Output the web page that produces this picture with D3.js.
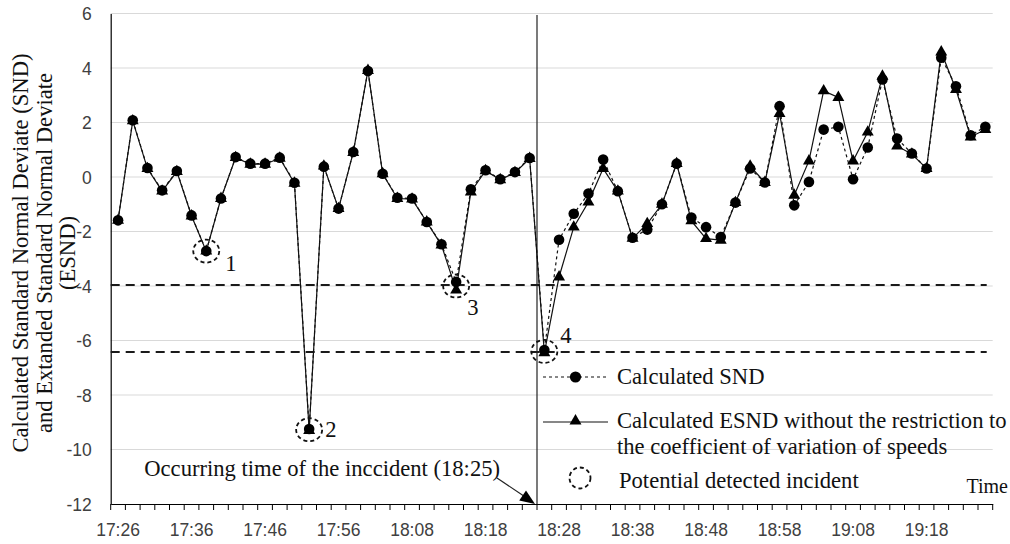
<!DOCTYPE html>
<html>
<head>
<meta charset="utf-8">
<script src="https://cdn.jsdelivr.net/npm/d3@7"></script>
<style>
  html, body { margin: 0; padding: 0; background: #fff; }
  svg { display: block; }
</style>
</head>
<body>
<svg id="chart" width="1010" height="544"></svg>
<script>
// Time of each 2-minute observation interval
const categories = [
  "17:26","17:28","17:30","17:32","17:34","17:36","17:38","17:40","17:42","17:44",
  "17:46","17:48","17:50","17:52","17:54","17:56","17:58","18:00","18:02","18:06",
  "18:08","18:10","18:12","18:14","18:16","18:18","18:20","18:22","18:24","18:26",
  "18:28","18:30","18:32","18:34","18:36","18:38","18:40","18:42","18:44","18:46",
  "18:48","18:50","18:52","18:54","18:56","18:58","19:00","19:02","19:04","19:06",
  "19:08","19:10","19:12","19:14","19:16","19:18","19:20","19:22","19:24","19:26"
];

// Calculated standard normal deviate
const snd = [
  -1.59, 2.08, 0.33, -0.49, 0.22, -1.41, -2.72, -0.79, 0.73, 0.49,
   0.49, 0.71, -0.21, -9.25, 0.38, -1.16, 0.92, 3.89, 0.12, -0.76,
  -0.79, -1.65, -2.47, -3.85, -0.45, 0.25, -0.08, 0.18, 0.70, -6.35,
  -2.30, -1.35, -0.61, 0.64, -0.52, -2.23, -1.93, -1.00, 0.49, -1.49,
  -1.84, -2.20, -0.94, 0.31, -0.20, 2.60, -1.04, -0.18, 1.74, 1.84,
  -0.08, 1.08, 3.58, 1.41, 0.86, 0.31, 4.38, 3.33, 1.53, 1.84
];

// Calculated ESND without the restriction to the coefficient of variation
const esnd = [
  -1.59, 2.06, 0.31, -0.52, 0.20, -1.43, -2.72, -0.79, 0.71, 0.47,
   0.47, 0.69, -0.23, -9.30, 0.40, -1.16, 0.90, 3.91, 0.12, -0.79,
  -0.81, -1.65, -2.50, -4.15, -0.55, 0.23, -0.10, 0.16, 0.68, -6.45,
  -3.67, -1.84, -0.92, 0.31, -0.52, -2.25, -1.71, -1.00, 0.49, -1.61,
  -2.26, -2.32, -0.94, 0.40, -0.20, 2.33, -0.67, 0.59, 3.16, 2.92,
   0.59, 1.65, 3.70, 1.14, 0.84, 0.31, 4.59, 3.21, 1.47, 1.74
];

// Detection thresholds
const thresholds = [-3.96, -6.42];

// Potential detected incidents (category index) and their numbers
const incidentIdx = [6, 13, 23, 29];
const incidentLabels = ["1", "2", "3", "4"];

// Incident onset lies between these two intervals
const incidentBetween = ["18:24", "18:26"];
const incidentText = "Occurring time of the inccident (18:25)";

const yTicks = [6, 4, 2, 0, -2, -4, -6, -8, -10, -12];
const xTickLabels = categories.filter((d, i) => i % 5 === 0);

const legendItems = [
  ["Calculated SND"],
  ["Calculated ESND without the restriction to", "the coefficient of variation of speeds"],
  ["Potential detected incident"]
];

// ---------- layout ----------
const serif = "'Liberation Serif', 'Times New Roman', serif";
const sans = "'Liberation Sans', Arial, sans-serif";
const serifSize = 22.6;
const plot = { left: 110.7, right: 992.7, top: 13.5, bottom: 504 };

const svg = d3.select("#chart");

const x = d3.scaleBand().domain(categories).range([plot.left, plot.right]).padding(0);
const y = d3.scaleLinear().domain([-12, 6]).range([plot.bottom, plot.top]);
const cx = d => x(d) + x.bandwidth() / 2;

// horizontal gridlines
svg.append("g")
  .selectAll("line")
  .data(yTicks.filter(v => v !== -12))
  .join("line")
  .attr("x1", plot.left).attr("x2", plot.right)
  .attr("y1", d => y(d)).attr("y2", d => y(d))
  .attr("stroke", "#d9d9d9").attr("stroke-width", 1);

// y axis (labels only, plus the axis line)
const yAxis = svg.append("g")
  .attr("transform", `translate(${plot.left},0)`)
  .call(d3.axisLeft(y).tickValues(yTicks).tickSize(0).tickPadding(19).tickFormat(d => String(d)));
yAxis.select(".domain").attr("stroke", "#000").attr("stroke-width", 1.2);
yAxis.selectAll("text")
  .attr("font-family", sans).attr("font-size", 17.5).attr("fill", "#404040")
  .attr("dy", "0.36em");

// x axis: tick marks at interval boundaries, labels every fifth interval
const xAxis = svg.append("g")
  .attr("transform", `translate(0,${plot.bottom})`)
  .call(d3.axisBottom(x).tickValues(xTickLabels).tickSize(0).tickPadding(0));
xAxis.select(".domain").attr("stroke", "#000").attr("stroke-width", 1.2);
xAxis.selectAll("text")
  .attr("font-family", sans).attr("font-size", 17.5).attr("fill", "#404040")
  .attr("y", 32).attr("dy", 0);

const boundaries = categories.map(c => x(c)).concat([plot.right]);
svg.append("g")
  .selectAll("line")
  .data(boundaries)
  .join("line")
  .attr("x1", d => d).attr("x2", d => d)
  .attr("y1", plot.bottom).attr("y2", plot.bottom + 6)
  .attr("stroke", "#000").attr("stroke-width", 1);

// threshold lines
svg.append("g")
  .selectAll("line")
  .data(thresholds)
  .join("line")
  .attr("x1", plot.left).attr("x2", plot.right - 6)
  .attr("y1", d => y(d)).attr("y2", d => y(d))
  .attr("stroke", "#1a1a1a").attr("stroke-width", 2)
  .attr("stroke-dasharray", "9,6");

// incident onset line
const xIncident = (cx(incidentBetween[0]) + cx(incidentBetween[1])) / 2;
svg.append("line")
  .attr("x1", xIncident).attr("x2", xIncident)
  .attr("y1", plot.top + 1.5).attr("y2", plot.bottom)
  .attr("stroke", "#222").attr("stroke-width", 1.2);

// series lines
const line = d3.line().x((d, i) => cx(categories[i])).y(d => y(d));

svg.append("path")
  .datum(esnd)
  .attr("d", line)
  .attr("fill", "none").attr("stroke", "#111").attr("stroke-width", 1.2);

svg.append("path")
  .datum(snd)
  .attr("d", line)
  .attr("fill", "none").attr("stroke", "#111").attr("stroke-width", 1.2)
  .attr("stroke-dasharray", "3,3");

// markers
const tri = d3.symbol().type(d3.symbolTriangle).size(62);
svg.append("g")
  .selectAll("path")
  .data(esnd)
  .join("path")
  .attr("d", tri)
  .attr("transform", (d, i) => `translate(${cx(categories[i])},${y(d)})`)
  .attr("fill", "#000");

svg.append("g")
  .selectAll("circle")
  .data(snd)
  .join("circle")
  .attr("cx", (d, i) => cx(categories[i]))
  .attr("cy", d => y(d))
  .attr("r", 5.3)
  .attr("fill", "#000");

// potential detected incidents
const labelOffset = [[19, 20], [16, 7], [11, 29], [16, -8]];
const inc = svg.append("g");
incidentIdx.forEach((idx, k) => {
  const px = cx(categories[idx]);
  const py = y((snd[idx] + esnd[idx]) / 2);
  inc.append("ellipse")
    .attr("cx", px).attr("cy", py).attr("rx", 13).attr("ry", 11.5)
    .attr("fill", "none").attr("stroke", "#111").attr("stroke-width", 1.8)
    .attr("stroke-dasharray", "4,3");
  inc.append("text")
    .attr("x", px + labelOffset[k][0]).attr("y", py + labelOffset[k][1])
    .attr("font-family", serif).attr("font-size", serifSize).attr("fill", "#111")
    .text(incidentLabels[k]);
});

// annotation of the incident onset
const tipX = xIncident - 2, tipY = plot.bottom;
const startX = 497, startY = 478;
svg.append("line")
  .attr("x1", startX).attr("y1", startY)
  .attr("x2", tipX - 6).attr("y2", tipY - 4.5)
  .attr("stroke", "#222").attr("stroke-width", 1.2);
const ang = Math.atan2(tipY - startY, tipX - startX);
const L = 15, W = 6;
const bx = tipX - L * Math.cos(ang), by = tipY - L * Math.sin(ang);
svg.append("path")
  .attr("d", `M${tipX},${tipY}L${bx + W * Math.sin(ang)},${by - W * Math.cos(ang)}L${bx - W * Math.sin(ang)},${by + W * Math.cos(ang)}Z`)
  .attr("fill", "#000");
svg.append("text")
  .attr("x", 500).attr("y", 476)
  .attr("text-anchor", "end")
  .attr("font-family", serif).attr("font-size", serifSize).attr("fill", "#111")
  .text(incidentText);

// legend
const lg = svg.append("g");
const lgX1 = 543, lgX2 = 608, lgMid = 575.5, lgText = 617;
lg.append("line").attr("x1", lgX1).attr("x2", lgX2).attr("y1", 377).attr("y2", 377)
  .attr("stroke", "#111").attr("stroke-width", 1.2).attr("stroke-dasharray", "3,3");
lg.append("circle").attr("cx", lgMid).attr("cy", 377).attr("r", 5.6).attr("fill", "#000");
lg.append("text").attr("x", lgText).attr("y", 384)
  .attr("font-family", serif).attr("font-size", serifSize).attr("fill", "#111").text(legendItems[0][0]);

lg.append("line").attr("x1", lgX1).attr("x2", lgX2).attr("y1", 422).attr("y2", 422)
  .attr("stroke", "#111").attr("stroke-width", 1.2);
lg.append("path").attr("d", tri).attr("transform", `translate(${lgMid},421)`).attr("fill", "#000");
lg.append("text").attr("x", lgText).attr("y", 428)
  .attr("font-family", serif).attr("font-size", serifSize).attr("fill", "#111").text(legendItems[1][0]);
lg.append("text").attr("x", lgText).attr("y", 454)
  .attr("font-family", serif).attr("font-size", serifSize).attr("fill", "#111").text(legendItems[1][1]);

lg.append("circle").attr("cx", 580).attr("cy", 478).attr("r", 10.5)
  .attr("fill", "none").attr("stroke", "#111").attr("stroke-width", 1.8)
  .attr("stroke-dasharray", "4,3");
lg.append("text").attr("x", 619).attr("y", 488)
  .attr("font-family", serif).attr("font-size", serifSize).attr("fill", "#111").text(legendItems[2][0]);

// axis titles
svg.append("text")
  .attr("x", 1008).attr("y", 493)
  .attr("text-anchor", "end")
  .attr("font-family", serif).attr("font-size", 20).attr("fill", "#111")
  .text("Time");

const yTitle = ["Calculated Standard Normal Deviate (SND)", "and Extanded Standard Normal Deviate", "(ESND)"];
const yTitleX = [28, 52, 75];
yTitle.forEach((t, i) => {
  svg.append("text")
    .attr("transform", `translate(${yTitleX[i]},253) rotate(-90)`)
    .attr("text-anchor", "middle")
    .attr("font-family", serif).attr("font-size", serifSize).attr("fill", "#111")
    .text(t);
});
</script>
</body>
</html>
